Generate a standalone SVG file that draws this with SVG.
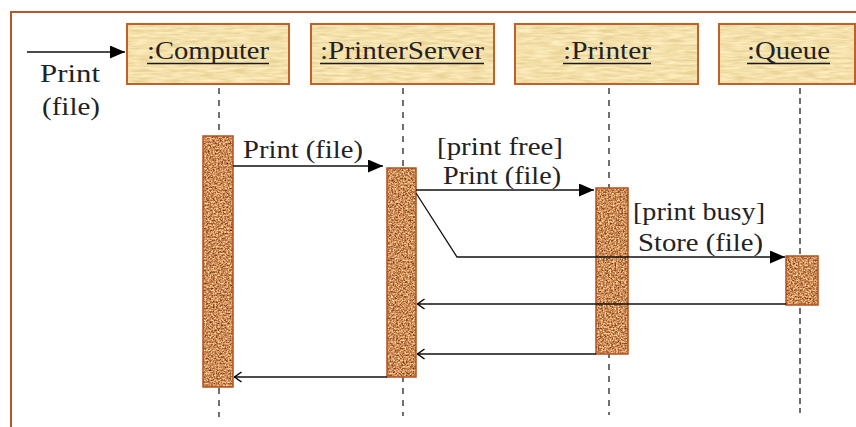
<svg xmlns="http://www.w3.org/2000/svg" width="856" height="427" viewBox="0 0 856 427">
<style>
.lbl{font-family:"Liberation Serif","Times New Roman",serif;font-size:26px;fill:#222}
.box{fill:none;stroke:#c0602a;stroke-width:2}
.bar{fill:none;stroke:#b4501e;stroke-width:1.5}
.life{stroke:#222;stroke-width:1.3;stroke-dasharray:6 6;fill:none}
.ul{stroke:#1a1a1a;stroke-width:1.5}
.msg{stroke:#111;stroke-width:1.3;fill:none}
</style>
<defs>
<filter id="parch" x="0" y="0" width="1" height="1" color-interpolation-filters="sRGB">
<feTurbulence type="fractalNoise" baseFrequency="0.06 0.4" numOctaves="2" seed="5" result="n"/>
<feColorMatrix in="n" type="matrix" values="0.15 0 0 0 0.88  0.2 0 0 0 0.78  0.3 0 0 0 0.52  0 0 0 0 1" result="c"/>
<feComposite in="c" in2="SourceGraphic" operator="in"/>
</filter>
<filter id="cork" x="0" y="0" width="1" height="1" color-interpolation-filters="sRGB">
<feTurbulence type="fractalNoise" baseFrequency="0.6" numOctaves="3" seed="11" result="n"/>
<feColorMatrix in="n" type="matrix" values="1.2 0 0 0 0.2  1.1 0 0 0 0.0  0.9 0 0 0 -0.1  0 0 0 0 1" result="c"/>
<feComposite in="c" in2="SourceGraphic" operator="in"/>
</filter>
<marker id="fill" viewBox="0 0 15 13" refX="15" refY="6.5" markerWidth="15" markerHeight="13" markerUnits="userSpaceOnUse" orient="auto">
<path d="M0,0 L15,6.5 L0,13 Z" fill="#000"/>
</marker>
<marker id="open" viewBox="0 0 9 12" refX="8.5" refY="6" markerWidth="9" markerHeight="12" markerUnits="userSpaceOnUse" orient="auto">
<path d="M1,1 L8,6 L1,11" fill="none" stroke="#000" stroke-width="1.5"/>
</marker>
</defs>
<rect width="856" height="427" fill="#fff"/>
<g id="frame">
<path d="M11,427 V12 H856" fill="none" stroke="#b5562c" stroke-width="2"/>
</g>
<g id="computer">
<line class="life" x1="219" y1="88" x2="219" y2="417"/>
<rect x="127" y="24" width="162" height="60" fill="#fff" filter="url(#parch)"/>
<rect class="box" x="127" y="24" width="162" height="60"/>
<text class="lbl" x="147" y="59" textLength="122" lengthAdjust="spacingAndGlyphs">:Computer</text>
<line class="ul" x1="147" y1="63.5" x2="269" y2="63.5"/>
<rect x="203" y="136" width="30" height="251" fill="#fff" filter="url(#cork)"/>
<rect class="bar" x="203" y="136" width="30" height="251"/>
</g>
<g id="printerserver">
<line class="life" x1="403" y1="88" x2="403" y2="416"/>
<rect x="311" y="24" width="183" height="60" fill="#fff" filter="url(#parch)"/>
<rect class="box" x="311" y="24" width="183" height="60"/>
<text class="lbl" x="320" y="59" textLength="164" lengthAdjust="spacingAndGlyphs">:PrinterServer</text>
<line class="ul" x1="320" y1="63.5" x2="484" y2="63.5"/>
<rect x="387" y="168" width="29" height="209" fill="#fff" filter="url(#cork)"/>
<rect class="bar" x="387" y="168" width="29" height="209"/>
</g>
<g id="printer">
<line class="life" x1="609" y1="88" x2="609" y2="415"/>
<rect x="515" y="24" width="183" height="60" fill="#fff" filter="url(#parch)"/>
<rect class="box" x="515" y="24" width="183" height="60"/>
<text class="lbl" x="563" y="59" textLength="88" lengthAdjust="spacingAndGlyphs">:Printer</text>
<line class="ul" x1="563" y1="63.5" x2="651" y2="63.5"/>
<rect x="596" y="188" width="32" height="166" fill="#fff" filter="url(#cork)"/>
<rect class="bar" x="596" y="188" width="32" height="166"/>
</g>
<g id="queue">
<line class="life" x1="800" y1="88" x2="800" y2="413" style="stroke-dasharray:6 4"/>
<rect x="719" y="24" width="136" height="60" fill="#fff" filter="url(#parch)"/>
<rect class="box" x="719" y="24" width="136" height="60"/>
<text class="lbl" x="747" y="59" textLength="83" lengthAdjust="spacingAndGlyphs">:Queue</text>
<line class="ul" x1="747" y1="63.5" x2="830" y2="63.5"/>
<rect x="786" y="256" width="32" height="49" fill="#fff" filter="url(#cork)"/>
<rect class="bar" x="786" y="256" width="32" height="49"/>
</g>
<g id="connectors">
<line class="msg" x1="27" y1="52" x2="125" y2="52" marker-end="url(#fill)"/>
<text class="lbl" x="40" y="82" textLength="60" lengthAdjust="spacingAndGlyphs">Print</text>
<text class="lbl" x="42" y="115" textLength="58" lengthAdjust="spacingAndGlyphs">(file)</text>
<line class="msg" x1="233" y1="166" x2="383" y2="166" marker-end="url(#fill)"/>
<text class="lbl" x="243" y="158" textLength="120" lengthAdjust="spacingAndGlyphs">Print (file)</text>
<line class="msg" x1="416" y1="190" x2="594" y2="190" marker-end="url(#fill)"/>
<text class="lbl" x="437" y="155" textLength="126" lengthAdjust="spacingAndGlyphs">[print free]</text>
<text class="lbl" x="443" y="184" textLength="118" lengthAdjust="spacingAndGlyphs">Print (file)</text>
<polyline class="msg" points="416,193 457,257 785,257" marker-end="url(#fill)"/>
<text class="lbl" x="633" y="220" textLength="132" lengthAdjust="spacingAndGlyphs">[print busy]</text>
<text class="lbl" x="638" y="251" textLength="125" lengthAdjust="spacingAndGlyphs">Store (file)</text>
<line class="msg" x1="786" y1="304" x2="417" y2="304" marker-end="url(#open)"/>
<line class="msg" x1="596" y1="354" x2="417" y2="354" marker-end="url(#open)"/>
<line class="msg" x1="387" y1="377" x2="234" y2="377" marker-end="url(#open)"/>
</g>
</svg>
